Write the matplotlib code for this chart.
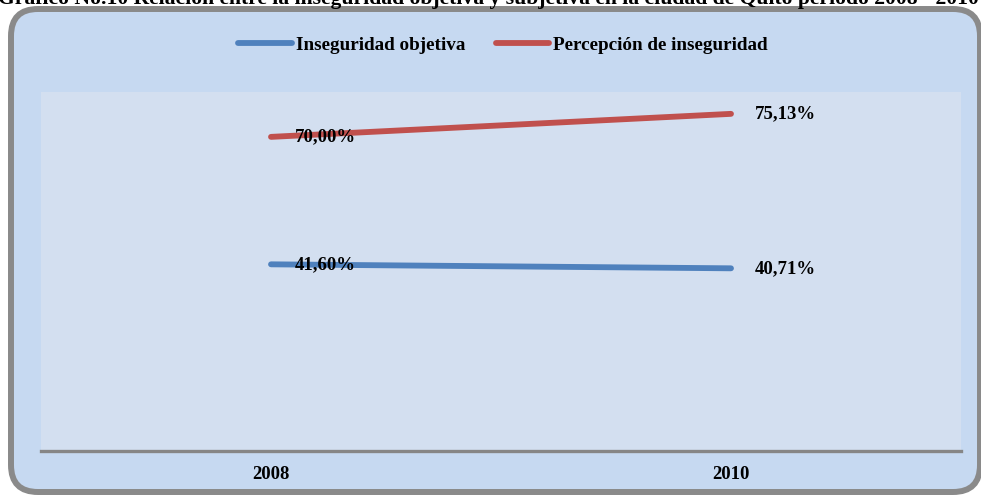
import matplotlib.pyplot as plt
from matplotlib.patches import FancyBboxPatch

years = ["2008", "2010"]
objetiva = [41.60, 40.71]
percepcion = [70.00, 75.13]
series_names = ["Inseguridad objetiva", "Percepción de inseguridad"]
title = ("Gráfico No.10 Relación entre la inseguridad objetiva y subjetiva "
         "en la ciudad de Quito período 2008 - 2010")

plt.rcParams['font.family'] = ['Liberation Serif', 'DejaVu Serif']
plt.rcParams['font.weight'] = 'bold'

fig = plt.figure(figsize=(9.81, 4.95), dpi=100)
fig.patch.set_facecolor('white')

# rounded outer frame (inches)
frame = FancyBboxPatch((0.11, 0.03), 9.69, 4.83,
                       boxstyle="round,pad=0,rounding_size=0.27",
                       transform=fig.dpi_scale_trans,
                       facecolor='#c6d9f1', edgecolor='#8a8a8a', lw=4.3, zorder=-5)
fig.patches.append(frame)

# title cut off at the top of the picture (as in the source)
fig.text(-0.002, 1 - 4 / 495, title, fontsize=15.6, fontweight='bold',
         ha='left', va='baseline')

ax = fig.add_axes([41 / 981, (495 - 451) / 495, (961 - 41) / 981, (451 - 92) / 495])
ax.set_zorder(2)
ax.set_facecolor('#d3dff0')

x = list(range(len(years)))
ax.plot(x, objetiva, color='#4f81bd', lw=4.2, solid_capstyle='round', label=series_names[0])
ax.plot(x, percepcion, color='#c0504d', lw=4.2, solid_capstyle='round', label=series_names[1])

for vals in (objetiva, percepcion):
    for i, v in enumerate(vals):
        ax.annotate(f"{v:.2f}%".replace('.', ','), (i, v), xytext=(17, 0),
                    textcoords='offset points', ha='left', va='center',
                    fontsize=13.5, fontweight='bold', zorder=5)

ax.set_xlim(-0.5, 1.5)
ax.set_ylim(0, 80)
ax.set_xticks(x)
ax.set_xticklabels(years, fontsize=13.5, fontweight='bold')
ax.tick_params(axis='x', length=0, pad=11)
ax.set_yticks([])
for s in ['top', 'left', 'right']:
    ax.spines[s].set_visible(False)
ax.spines['bottom'].set_color('#868686')
ax.spines['bottom'].set_linewidth(2.4)

fig.legend(loc='center', bbox_to_anchor=(503 / 981, (495 - 45) / 495), ncol=2,
           frameon=False, fontsize=13.8, handlelength=2.8, handletextpad=0.2,
           columnspacing=1.6)

fig.savefig('out.png', dpi=100)
